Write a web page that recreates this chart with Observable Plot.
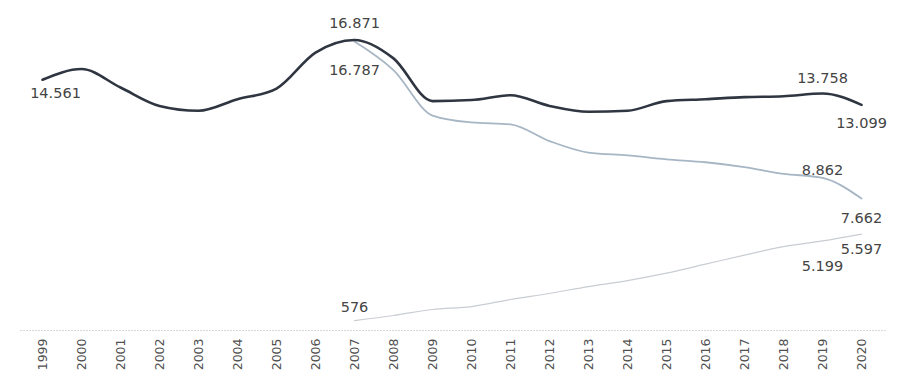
<!DOCTYPE html>
<html>
<head>
<meta charset="utf-8">
<script src="https://cdn.jsdelivr.net/npm/d3@7"></script>
<script src="https://cdn.jsdelivr.net/npm/@observablehq/plot@0.6"></script>
<style>
  html, body { margin: 0; padding: 0; background: #fff; }
  #chart { width: 903px; height: 383px; }
</style>
</head>
<body>
<div id="chart"></div>
<script>
const years = ["1999","2000","2001","2002","2003","2004","2005","2006","2007","2008","2009","2010",
               "2011","2012","2013","2014","2015","2016","2017","2018","2019","2020"];

const totalValues = [14561, 15180, 14110, 13040, 12760, 13430, 14050, 16140, 16871, 15800, 13320, 13380,
                     13660, 13040, 12700, 12760, 13320, 13430, 13550, 13600, 13758, 13099];

const seriesBYears = ["2007","2008","2009","2010","2011","2012","2013","2014","2015","2016","2017","2018","2019","2020"];
const seriesBValues = [16787, 15120, 12480, 12080, 11970, 11000, 10330, 10170, 9940, 9770, 9490, 9100, 8862, 7662];

const seriesCYears = ["2007","2008","2009","2010","2011","2012","2013","2014","2015","2016","2017","2018","2019","2020"];
const seriesCValues = [576, 870, 1220, 1390, 1800, 2150, 2550, 2900, 3330, 3850, 4380, 4870, 5199, 5597];

const total = years.map((y, i) => ({year: y, value: totalValues[i]}));
const seriesB = seriesBYears.map((y, i) => ({year: y, value: seriesBValues[i]}));
const seriesC = seriesCYears.map((y, i) => ({year: y, value: seriesCValues[i]}));

const fmt = d3.formatLocale({decimal: ",", thousands: ".", grouping: [3], currency: ["", ""]}).format(",d");

const FONT = "DejaVu Sans, Verdana, sans-serif";
const lbl = {fontSize: 14.5, fill: "#444", fontFamily: FONT};
const pick = (arr, yr) => arr.filter(d => d.year === yr);

const chart = Plot.plot({
  width: 903,
  height: 383,
  marginLeft: 32,
  marginRight: 33,
  marginTop: 20,
  marginBottom: 53,
  style: {fontFamily: FONT, background: "#fff"},
  x: {type: "point", domain: years, padding: 0, label: null},
  y: {domain: [0, 18000], axis: null},
  marks: [
    Plot.ruleY([0], {stroke: "#d9d9d9", strokeWidth: 1, strokeDasharray: "2,1", insetLeft: -12, insetRight: -17}),
    Plot.axisX({tickSize: 0, tickRotate: -90, tickPadding: 8, fontSize: 12.5, fill: "#505050", label: null}),
    Plot.line(seriesC, {x: "year", y: "value", stroke: "#c9cdd2", strokeWidth: 1.2, curve: "monotone-x"}),
    Plot.line(seriesB, {x: "year", y: "value", stroke: "#a7b6c4", strokeWidth: 1.8, curve: "monotone-x"}),
    Plot.line(total, {x: "year", y: "value", stroke: "#2f3641", strokeWidth: 2.6, curve: "monotone-x"}),
    Plot.text(pick(total, "1999"), {x: "year", y: "value", text: d => fmt(d.value), dx: 13, dy: 14, ...lbl}),
    Plot.text(pick(total, "2007"), {x: "year", y: "value", text: d => fmt(d.value), dy: -17, ...lbl}),
    Plot.text(pick(total, "2019"), {x: "year", y: "value", text: d => fmt(d.value), dy: -15, ...lbl}),
    Plot.text(pick(total, "2020"), {x: "year", y: "value", text: d => fmt(d.value), dy: 18, ...lbl}),
    Plot.text(pick(seriesB, "2007"), {x: "year", y: "value", text: d => fmt(d.value), dy: 29, ...lbl}),
    Plot.text(pick(seriesB, "2019"), {x: "year", y: "value", text: d => fmt(d.value), dy: -8, ...lbl}),
    Plot.text(pick(seriesB, "2020"), {x: "year", y: "value", text: d => fmt(d.value), dy: 20, ...lbl}),
    Plot.text(pick(seriesC, "2007"), {x: "year", y: "value", text: d => fmt(d.value), dy: -13, ...lbl}),
    Plot.text(pick(seriesC, "2019"), {x: "year", y: "value", text: d => fmt(d.value), dy: 25, ...lbl}),
    Plot.text(pick(seriesC, "2020"), {x: "year", y: "value", text: d => fmt(d.value), dy: 15, ...lbl})
  ]
});
document.getElementById("chart").appendChild(chart);
</script>
</body>
</html>
